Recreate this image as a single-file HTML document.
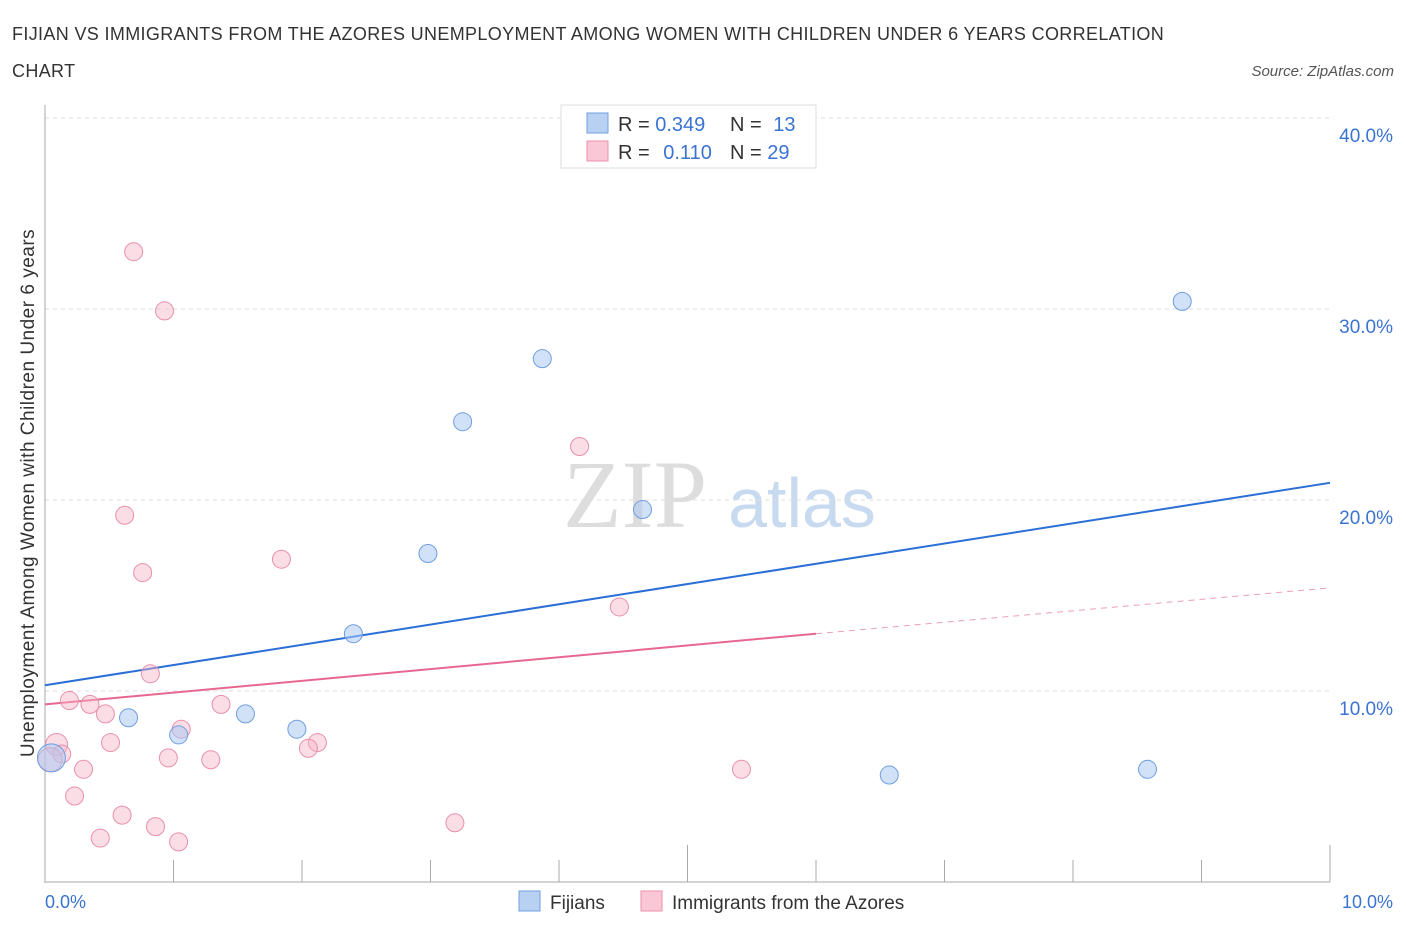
<!DOCTYPE html>
<html><head><meta charset="utf-8"><style>
body{margin:0;background:#fff;font-family:"Liberation Sans",sans-serif;}
svg text{font-family:"Liberation Sans",sans-serif;}
</style></head><body>
<svg id="chart" width="1406" height="930" xmlns="http://www.w3.org/2000/svg">
<text x="12" y="40" font-size="18" letter-spacing="0.35" fill="#333">FIJIAN VS IMMIGRANTS FROM THE AZORES UNEMPLOYMENT AMONG WOMEN WITH CHILDREN UNDER 6 YEARS CORRELATION</text>
<text x="12" y="77" font-size="18" letter-spacing="0.35" fill="#333">CHART</text>
<text x="1394" y="76" font-size="15" fill="#555" font-style="italic" text-anchor="end">Source: ZipAtlas.com</text>
<text x="635" y="527" font-size="96" fill="#ddd" style="font-family:'Liberation Serif',serif" text-anchor="middle">ZIP</text>
<text x="802" y="527" font-size="70" fill="#c8daf0" text-anchor="middle">atlas</text>
<g id="grid"></g>
<g id="axes"></g>
<g id="lines"></g>
<g id="points"></g>
<text transform="translate(34,493) rotate(-90)" font-size="19" letter-spacing="0.5" fill="#333" text-anchor="middle">Unemployment Among Women with Children Under 6 years</text>
<text x="45" y="908" font-size="18" fill="#3b73d1">0.0%</text>
<text x="1393" y="908" font-size="18" fill="#3b73d1" text-anchor="end">10.0%</text>
<g>
<rect x="561" y="105" width="255" height="63" fill="#fff" stroke="#ddd"/>
<rect x="587" y="113" width="21" height="20" fill="#b8d1f3" stroke="#6f9ee0"/>
<rect x="587" y="141" width="21" height="20" fill="#f9c7d6" stroke="#ec8fab"/>
<text x="618" y="131" font-size="20" fill="#333">R = <tspan fill="#3b73d1">0.349</tspan></text>
<text x="730" y="131" font-size="20" fill="#333">N = <tspan fill="#3b73d1" dx="6">13</tspan></text>
<text x="618" y="159" font-size="20" fill="#333">R = <tspan fill="#3b73d1" dx="8">0.110</tspan></text>
<text x="730" y="159" font-size="20" fill="#333">N = <tspan fill="#3b73d1">29</tspan></text>
</g>
<g>
<rect x="519" y="891" width="21" height="20" fill="#b8d1f3" stroke="#6f9ee0"/>
<text x="550" y="909" font-size="19" fill="#333">Fijians</text>
<rect x="641" y="891" width="21" height="20" fill="#f9c7d6" stroke="#ec8fab"/>
<text x="672" y="909" font-size="19" fill="#333">Immigrants from the Azores</text>
</g>
</svg>
<script>
const yTicks=[10,20,30,40];
const yTickLabels=["10.0%","20.0%","30.0%","40.0%"];
const fijiX=[0.05,0.65,1.04,1.56,1.96,2.40,2.98,3.25,3.87,4.65,6.57,8.58,8.85];
const fijiY=[6.5,8.6,7.7,8.8,8.0,13.0,17.2,24.1,27.4,19.5,5.6,5.9,30.4];
const fijiSize=[14,9,9,9,9,9,9,9,9,9,9,9,9];
const azX=[0.69,0.93,0.62,0.76,1.84,4.16,4.47,0.82,0.19,0.35,0.47,1.37,1.06,0.51,0.09,0.13,0.30,0.96,1.29,2.12,2.05,0.23,0.60,0.86,0.43,1.04,3.19,5.42,0.04];
const azY=[33.0,29.9,19.2,16.2,16.9,22.8,14.4,10.9,9.5,9.3,8.8,9.3,8.0,7.3,7.2,6.7,5.9,6.5,6.4,7.3,7.0,4.5,3.5,2.9,2.3,2.1,3.1,5.9,6.4];
const azSize=[9,9,9,9,9,9,9,9,9,9,9,9,9,9,11,9,9,9,9,9,9,9,9,9,9,9,9,9,12];
const fijiTrend=[10.3,20.9];
const azTrend=[9.3,13.0,15.4];
const NS="http://www.w3.org/2000/svg";
const xs=v=>45+v/10*1285, ys=v=>882-v*19.1;
function mk(tag,at,parent){const e=document.createElementNS(NS,tag);for(const k in at)e.setAttribute(k,at[k]);document.getElementById(parent).appendChild(e);return e;}
yTicks.forEach((t,i)=>{
 const g=mk('line',{x1:45,x2:1330,y1:ys(t),y2:ys(t),stroke:'#ddd','stroke-dasharray':'4,4'},'grid');
 
 
 const tx=mk('text',{x:1393,y:ys(t)+24,'font-size':19,fill:'#3b73d1','text-anchor':'end'},'grid');
 tx.textContent=yTickLabels[i];
 
 
});
const ax=mk('line',{x1:45,x2:45,y1:105,y2:883,stroke:'#aaa'},'axes');


const bx=mk('line',{x1:45,x2:1330,y1:882,y2:882,stroke:'#aaa'},'axes');


for(let i=0;i<=10;i++){const t=mk('line',{x1:45+i*128.5,x2:45+i*128.5,y1:882,y2:i%5==0?845:860,stroke:'#aaa'},'axes');
 
 }
const l1=mk('line',{x1:xs(0),y1:ys(fijiTrend[0]),x2:xs(10),y2:ys(fijiTrend[1]),stroke:'#2b6fd6','stroke-width':2},'lines');


const l2=mk('line',{x1:xs(0),y1:ys(azTrend[0]),x2:xs(6),y2:ys(azTrend[1]),stroke:'#e8678f','stroke-width':2},'lines');


const l3=mk('line',{x1:xs(6),y1:ys(azTrend[1]),x2:xs(10),y2:ys(azTrend[2]),stroke:'#e8a0b6','stroke-width':1,'stroke-dasharray':'6,5'},'lines');


azX.forEach((x,i)=>{const c=mk('circle',{cx:xs(x),cy:ys(azY[i]),r:azSize[i],fill:'rgba(246,180,200,0.45)',stroke:'#e98fab','stroke-width':1},'points');
 
 });
fijiX.forEach((x,i)=>{const c=mk('circle',{cx:xs(x),cy:ys(fijiY[i]),r:fijiSize[i],fill:'rgba(170,200,242,0.55)',stroke:'#6f9ee0','stroke-width':1},'points');
 
 });
</script>
</body></html>
